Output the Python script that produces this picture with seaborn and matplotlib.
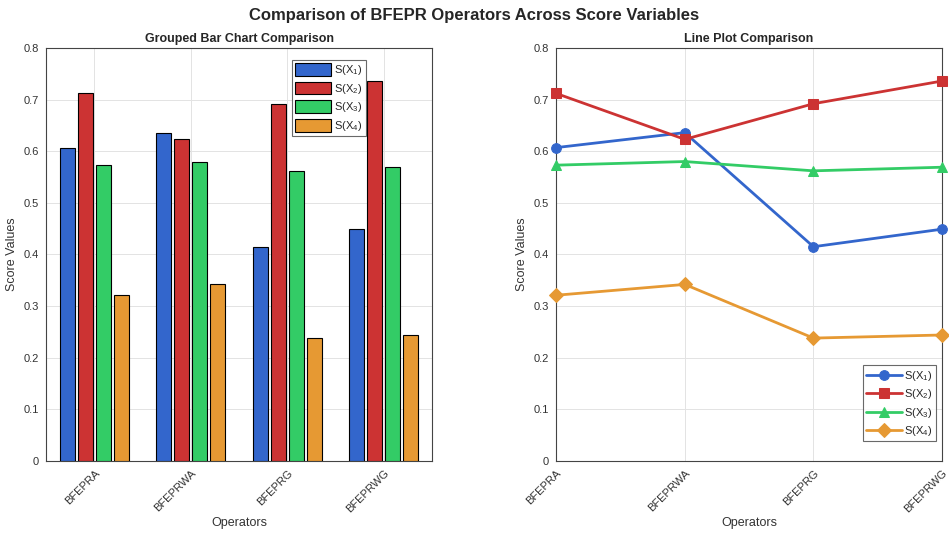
import numpy as np
import pandas as pd
import matplotlib
matplotlib.use("Agg")
import matplotlib.pyplot as plt
import seaborn as sns

# data
operators = ["BFEPRA", "BFEPRWA", "BFEPRG", "BFEPRWG"]
series = ["S(X$_1$)", "S(X$_2$)", "S(X$_3$)", "S(X$_4$)"]
s_x1 = [0.607, 0.636, 0.415, 0.449]
s_x2 = [0.712, 0.623, 0.692, 0.736]
s_x3 = [0.573, 0.580, 0.562, 0.569]
s_x4 = [0.321, 0.342, 0.238, 0.244]

colors = ["#3366cc", "#cc3333", "#33cc66", "#e69933"]
markers = ["o", "s", "^", "D"]

df = pd.DataFrame({
    "Operator": np.tile(operators, 4),
    "Series": np.repeat(series, 4),
    "Score": s_x1 + s_x2 + s_x3 + s_x4,
})

sns.set_style("whitegrid")
plt.rcParams["font.family"] = ["Liberation Sans", "DejaVu Sans"]
plt.rcParams["mathtext.fontset"] = "custom"
plt.rcParams["mathtext.rm"] = "Liberation Sans"
plt.rcParams["mathtext.it"] = "Liberation Sans"

fig = plt.figure(figsize=(9.49, 5.36), dpi=100)
ax1 = fig.add_axes([0.0485, 0.140, 0.4067, 0.7705])
ax2 = fig.add_axes([0.586, 0.140, 0.4067, 0.7705])

palette = dict(zip(series, colors))

# Grouped bars
sns.barplot(data=df, x="Operator", y="Score", hue="Series", palette=palette,
            width=0.745, gap=0.17, edgecolor="black", linewidth=0.8,
            saturation=1, ax=ax1, zorder=3)
ax1.set_xlim(-0.5, 3.5)
ax1.set_title("Grouped Bar Chart Comparison", fontsize=9, fontweight="bold", pad=4)
leg1 = ax1.legend(loc="upper right", bbox_to_anchor=(0.843, 0.985), fontsize=8,
                  frameon=True, fancybox=False, edgecolor="#444444",
                  handlelength=3.2, handleheight=1.4, labelspacing=0.4,
                  borderpad=0.3, handletextpad=0.3)
leg1.get_frame().set_linewidth(0.8)

# Line plot
for name, col, mk in zip(series, colors, markers):
    sub = df[df["Series"] == name]
    sns.lineplot(data=sub, x="Operator", y="Score", color=col, marker=mk,
                 markersize=7, markeredgecolor=col, linewidth=2,
                 label=name, ax=ax2, zorder=3, clip_on=False)
ax2.set_xlim(0, 3)
ax2.set_title("Line Plot Comparison", fontsize=9, fontweight="bold", pad=4)
leg2 = ax2.legend(loc="lower right", bbox_to_anchor=(0.998, 0.034), fontsize=8,
                  frameon=True, fancybox=False, edgecolor="#444444",
                  handlelength=3.2, labelspacing=0.4, borderpad=0.3,
                  handletextpad=0.2)
leg2.get_frame().set_linewidth(0.8)

for ax in (ax1, ax2):
    ax.set_ylim(0, 0.8)
    ax.set_yticks(np.arange(0, 0.81, 0.1))
    ax.set_yticklabels(["0"] + [f"{v:.1f}" for v in np.arange(0.1, 0.81, 0.1)])
    ax.set_xlabel("Operators", fontsize=9, color="#333333", labelpad=2)
    ax.set_ylabel("Score Values", fontsize=9, color="#333333", labelpad=4)
    ax.tick_params(axis="both", labelsize=8, colors="#444444", direction="in",
                   length=3, labelcolor="#333333")
    ax.tick_params(axis="y", pad=5)
    ax.tick_params(axis="x", pad=5)
    plt.setp(ax.get_xticklabels(), rotation=45, ha="right", rotation_mode="anchor")
    ax.grid(True, color="#e3e3e3", linewidth=0.7, zorder=0)
    ax.set_axisbelow(True)
    for sp in ax.spines.values():
        sp.set_visible(True)
        sp.set_color("#444444")
        sp.set_linewidth(0.8)

fig.suptitle("Comparison of BFEPR Operators Across Score Variables",
             fontsize=12, fontweight="bold", y=0.985)

fig.savefig("out.png", dpi=100)
